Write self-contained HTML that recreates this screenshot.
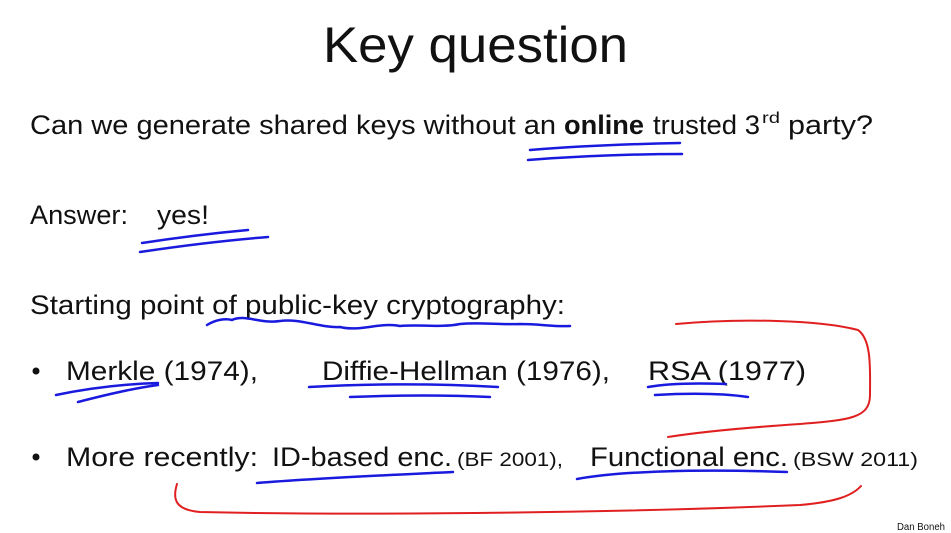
<!DOCTYPE html>
<html><head><meta charset="utf-8"><style>
html,body{margin:0;padding:0;background:#fff;}
svg{display:block;}
text{font-family:"Liberation Sans",sans-serif;fill:#111;}
</style></head><body>
<svg width="951" height="533" viewBox="0 0 951 533" xmlns="http://www.w3.org/2000/svg">
<text x="323" y="62" font-size="50" textLength="305" lengthAdjust="spacingAndGlyphs">Key question</text>

<text y="134" font-size="27">
<tspan x="30" textLength="526" lengthAdjust="spacingAndGlyphs">Can we generate shared keys without an</tspan>
<tspan x="564" font-weight="bold" textLength="80" lengthAdjust="spacingAndGlyphs">online</tspan>
<tspan x="653" textLength="107" lengthAdjust="spacingAndGlyphs">trusted 3</tspan>
<tspan x="762" y="123" font-size="16" textLength="18" lengthAdjust="spacingAndGlyphs">rd</tspan>
<tspan x="788" y="134" textLength="85" lengthAdjust="spacingAndGlyphs">party?</tspan>
</text>

<text y="224" font-size="27">
<tspan x="30" textLength="98" lengthAdjust="spacingAndGlyphs">Answer:</tspan>
<tspan x="157" textLength="52" lengthAdjust="spacingAndGlyphs">yes!</tspan>
</text>

<text x="30" y="314" font-size="27" textLength="535" lengthAdjust="spacingAndGlyphs">Starting point of public-key cryptography:</text>

<circle cx="36" cy="371" r="3.5" fill="#111"/>
<text y="380" font-size="27">
<tspan x="66" textLength="192" lengthAdjust="spacingAndGlyphs">Merkle (1974),</tspan>
<tspan x="322" textLength="288" lengthAdjust="spacingAndGlyphs">Diffie-Hellman (1976),</tspan>
<tspan x="648" textLength="158" lengthAdjust="spacingAndGlyphs">RSA (1977)</tspan>
</text>

<circle cx="36" cy="457" r="3.5" fill="#111"/>
<text y="466" font-size="27">
<tspan x="66" textLength="192" lengthAdjust="spacingAndGlyphs">More recently:</tspan>
<tspan x="272" textLength="180" lengthAdjust="spacingAndGlyphs">ID-based enc.</tspan>
<tspan x="457" font-size="19" textLength="106" lengthAdjust="spacingAndGlyphs">(BF 2001),</tspan>
<tspan x="590" textLength="198" lengthAdjust="spacingAndGlyphs">Functional enc.</tspan>
<tspan x="793" font-size="19" textLength="125" lengthAdjust="spacingAndGlyphs">(BSW 2011)</tspan>
</text>

<text x="897" y="530" font-size="10" textLength="48" lengthAdjust="spacingAndGlyphs">Dan Boneh</text>

<g fill="none" stroke="#1a1adf" stroke-width="2.5" stroke-linecap="round">
<path d="M530,150 C580,146 630,144 680,143"/>
<path d="M528,160 C580,156 630,154 682,154"/>
<path d="M142,243 C175,238 215,233 248,230"/>
<path d="M140,252 C180,246 230,240 268,237"/>
<path d="M207,325 C215,320 225,318 232,320 C245,314 260,324 280,321 C300,318 320,328 340,327 C360,332 380,322 400,326 C420,324 440,328 460,324 C480,322 500,325 520,324 C540,324 555,327 570,326"/>
<path d="M56,395 C90,388 125,384 158,383"/>
<path d="M78,402 C105,395 135,388 158,385"/>
<path d="M309,387 C360,384 430,383 498,387"/>
<path d="M350,397 C400,395 450,395 490,397"/>
<path d="M648,387 C670,383 700,383 726,384"/>
<path d="M655,395 C690,393 720,393 748,397"/>
<path d="M257,483 C320,478 390,475 453,472"/>
<path d="M577,479 C620,471 700,469 787,472"/>
</g>
<g fill="none" stroke="#e02020" stroke-width="2" stroke-linecap="round">
<path d="M676,324 C740,318 820,320 858,330 C872,340 870,370 870,395 C870,418 850,420 800,424 C740,428 700,432 668,437"/>
<path d="M177,484 C172,500 176,510 200,512 C380,516 640,512 800,505 C835,502 852,496 861,486"/>
</g>
</svg>
</body></html>
